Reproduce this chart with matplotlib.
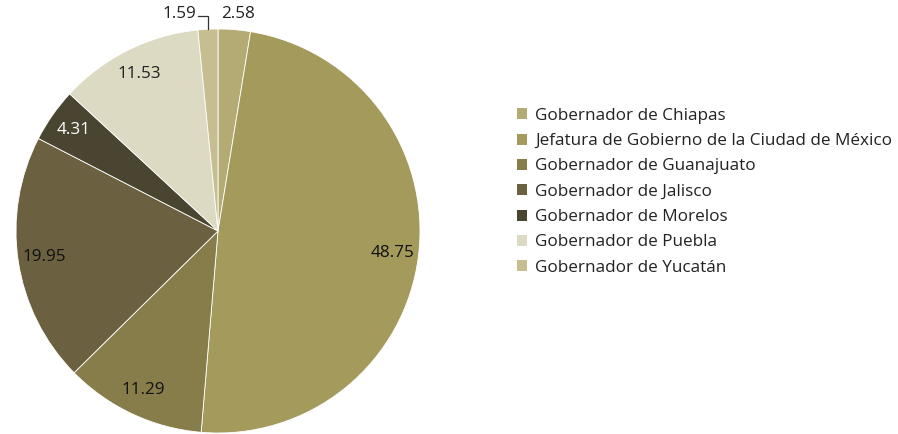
import matplotlib
matplotlib.use("Agg")
import matplotlib.pyplot as plt
from matplotlib.patches import Patch
import numpy as np

plt.rcParams['font.family'] = ['Open Sans', 'DejaVu Sans']

categories = [
    "Gobernador de Chiapas",
    "Jefatura de Gobierno de la Ciudad de México",
    "Gobernador de Guanajuato",
    "Gobernador de Jalisco",
    "Gobernador de Morelos",
    "Gobernador de Puebla",
    "Gobernador de Yucatán",
]
values = [2.58, 48.75, 11.29, 19.95, 4.31, 11.53, 1.59]
colors = ["#b4ab74", "#a39a5c", "#877d4b", "#6b6140", "#4a4530", "#dcdac2", "#c6bd91"]
label_colors = ["#222222", "#111111", "#111111", "#111111", "#ffffff", "#222222", "#222222"]

FS = 12.3
W, H = 898, 434
fig = plt.figure(figsize=(W / 100, H / 100), dpi=100)
cx, cy, r = 218, 231, 202
ax = fig.add_axes([(cx - r) / W, (H - cy - r) / H, 2 * r / W, 2 * r / H])

wedges, _ = ax.pie(values, colors=colors, startangle=90, counterclock=False,
                   radius=1.0, wedgeprops=dict(edgecolor='white', linewidth=0.6))
ax.set_xlim(-1, 1)
ax.set_ylim(-1, 1)
ax.set_aspect('equal')
ax.axis('off')

for w, v, tc in zip(wedges, values, label_colors):
    if v < 3:
        continue
    ang = np.deg2rad((w.theta1 + w.theta2) / 2)
    d = 0.87
    ax.text(d * np.cos(ang), d * np.sin(ang), f"{v:.2f}", ha='center', va='center',
            fontsize=FS, color=tc)

# small slices at the top get outside labels
w_yu = wedges[6]
ang_yu = np.deg2rad((w_yu.theta1 + w_yu.theta2) / 2)
xe, ye = np.cos(ang_yu), np.sin(ang_yu)
ax.text(0.10, 1.075, f"{values[0]:.2f}", ha='center', va='center', fontsize=FS,
        color=label_colors[0], clip_on=False)
ax.plot([xe - 0.05, xe, xe], [1.065, 1.065, ye], color='#333333', lw=0.9,
        clip_on=False, solid_joinstyle='miter')
ax.text(xe - 0.06, 1.075, f"{values[6]:.2f}", ha='right', va='center', fontsize=FS,
        color=label_colors[6], clip_on=False)

handles = [Patch(facecolor=c, edgecolor='none') for c in colors]
fig.legend(handles, categories, loc='upper left',
           bbox_to_anchor=(510 / W, 1 - 101 / H), frameon=False,
           fontsize=FS, handlelength=0.62, handleheight=0.62, handletextpad=0.45,
           labelspacing=0.545, borderaxespad=0, labelcolor='#222222')

fig.savefig("out.png", dpi=100)
